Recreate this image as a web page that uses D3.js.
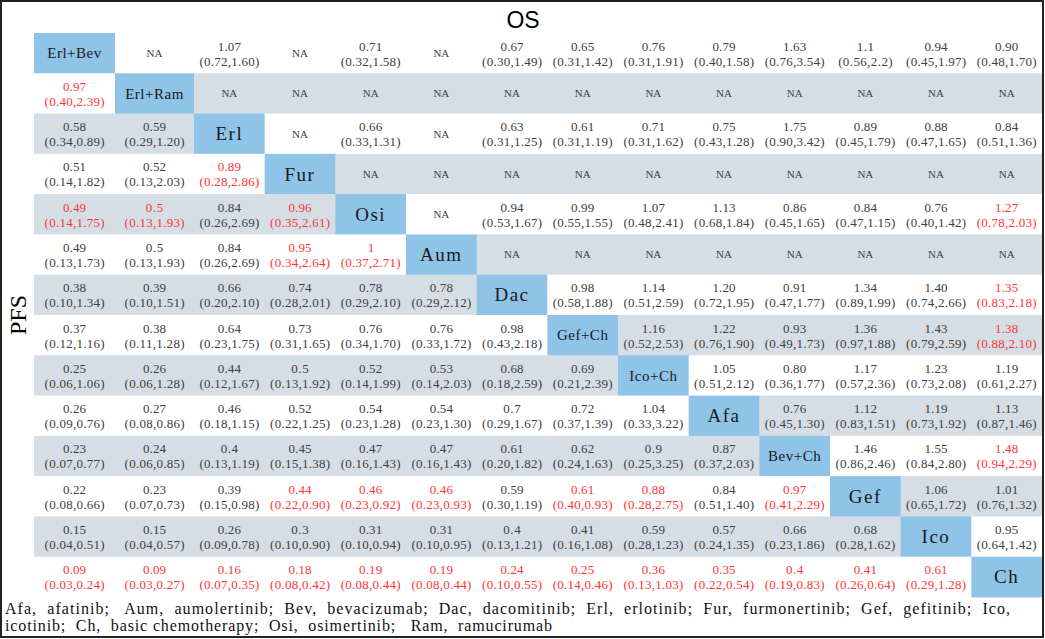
<!DOCTYPE html>
<html>
<head>
<meta charset="utf-8">
<script src="https://cdn.jsdelivr.net/npm/d3@7"></script>
<style>
  html, body { margin: 0; padding: 0; background: #fff; }
  svg { display: block; }
  text { white-space: pre; }
</style>
</head>
<body>
<div id="chart"></div>
<script>
// treatments on the diagonal (rows and columns share this order)
const treatments = ['Erl+Bev', 'Erl+Ram', 'Erl', 'Fur', 'Osi', 'Aum', 'Dac',
  'Gef+Ch', 'Ico+Ch', 'Afa', 'Bev+Ch', 'Gef', 'Ico', 'Ch'];

// one row per treatment: below the diagonal = PFS, above = OS, "" = diagonal
const rowErlBev = ['', 'NA', '1.07|(0.72,1.60)', 'NA', '0.71|(0.32,1.58)', 'NA', '0.67|(0.30,1.49)', '0.65|(0.31,1.42)', '0.76|(0.31,1.91)', '0.79|(0.40,1.58)', '1.63|(0.76,3.54)', '1.1|(0.56,2.2)', '0.94|(0.45,1.97)', '0.90|(0.48,1.70)'];
const rowErlRam = ['0.97|(0.40,2.39)', '', 'NA', 'NA', 'NA', 'NA', 'NA', 'NA', 'NA', 'NA', 'NA', 'NA', 'NA', 'NA'];
const rowErl = ['0.58|(0.34,0.89)', '0.59|(0.29,1.20)', '', 'NA', '0.66|(0.33,1.31)', 'NA', '0.63|(0.31,1.25)', '0.61|(0.31,1.19)', '0.71|(0.31,1.62)', '0.75|(0.43,1.28)', '1.75|(0.90,3.42)', '0.89|(0.45,1.79)', '0.88|(0.47,1.65)', '0.84|(0.51,1.36)'];
const rowFur = ['0.51|(0.14,1.82)', '0.52|(0.13,2.03)', '0.89|(0.28,2.86)', '', 'NA', 'NA', 'NA', 'NA', 'NA', 'NA', 'NA', 'NA', 'NA', 'NA'];
const rowOsi = ['0.49|(0.14,1.75)', '0.5|(0.13,1.93)', '0.84|(0.26,2.69)', '0.96|(0.35,2.61)', '', 'NA', '0.94|(0.53,1.67)', '0.99|(0.55,1.55)', '1.07|(0.48,2.41)', '1.13|(0.68,1.84)', '0.86|(0.45,1.65)', '0.84|(0.47,1.15)', '0.76|(0.40,1.42)', '1.27|(0.78,2.03)'];
const rowAum = ['0.49|(0.13,1.73)', '0.5|(0.13,1.93)', '0.84|(0.26,2.69)', '0.95|(0.34,2.64)', '1|(0.37,2.71)', '', 'NA', 'NA', 'NA', 'NA', 'NA', 'NA', 'NA', 'NA'];
const rowDac = ['0.38|(0.10,1.34)', '0.39|(0.10,1.51)', '0.66|(0.20,2.10)', '0.74|(0.28,2.01)', '0.78|(0.29,2.10)', '0.78|(0.29,2.12)', '', '0.98|(0.58,1.88)', '1.14|(0.51,2.59)', '1.20|(0.72,1.95)', '0.91|(0.47,1.77)', '1.34|(0.89,1.99)', '1.40|(0.74,2.66)', '1.35|(0.83,2.18)'];
const rowGefCh = ['0.37|(0.12,1.16)', '0.38|(0.11,1.28)', '0.64|(0.23,1.75)', '0.73|(0.31,1.65)', '0.76|(0.34,1.70)', '0.76|(0.33,1.72)', '0.98|(0.43,2.18)', '', '1.16|(0.52,2.53)', '1.22|(0.76,1.90)', '0.93|(0.49,1.73)', '1.36|(0.97,1.88)', '1.43|(0.79,2.59)', '1.38|(0.88,2.10)'];
const rowIcoCh = ['0.25|(0.06,1.06)', '0.26|(0.06,1.28)', '0.44|(0.12,1.67)', '0.5|(0.13,1.92)', '0.52|(0.14,1.99)', '0.53|(0.14,2.03)', '0.68|(0.18,2.59)', '0.69|(0.21,2.39)', '', '1.05|(0.51,2.12)', '0.80|(0.36,1.77)', '1.17|(0.57,2.36)', '1.23|(0.73,2.08)', '1.19|(0.61,2.27)'];
const rowAfa = ['0.26|(0.09,0.76)', '0.27|(0.08,0.86)', '0.46|(0.18,1.15)', '0.52|(0.22,1.25)', '0.54|(0.23,1.28)', '0.54|(0.23,1.30)', '0.7|(0.29,1.67)', '0.72|(0.37,1.39)', '1.04|(0.33,3.22)', '', '0.76|(0.45,1.30)', '1.12|(0.83,1.51)', '1.19|(0.73,1.92)', '1.13|(0.87,1.46)'];
const rowBevCh = ['0.23|(0.07,0.77)', '0.24|(0.06,0.85)', '0.4|(0.13,1.19)', '0.45|(0.15,1.38)', '0.47|(0.16,1.43)', '0.47|(0.16,1.43)', '0.61|(0.20,1.82)', '0.62|(0.24,1.63)', '0.9|(0.25,3.25)', '0.87|(0.37,2.03)', '', '1.46|(0.86,2.46)', '1.55|(0.84,2.80)', '1.48|(0.94,2.29)'];
const rowGef = ['0.22|(0.08,0.66)', '0.23|(0.07,0.73)', '0.39|(0.15,0.98)', '0.44|(0.22,0.90)', '0.46|(0.23,0.92)', '0.46|(0.23,0.93)', '0.59|(0.30,1.19)', '0.61|(0.40,0.93)', '0.88|(0.28,2.75)', '0.84|(0.51,1.40)', '0.97|(0.41,2.29)', '', '1.06|(0.65,1.72)', '1.01|(0.76,1.32)'];
const rowIco = ['0.15|(0.04,0.51)', '0.15|(0.04,0.57)', '0.26|(0.09,0.78)', '0.3|(0.10,0.90)', '0.31|(0.10,0.94)', '0.31|(0.10,0.95)', '0.4|(0.13,1.21)', '0.41|(0.16,1.08)', '0.59|(0.28,1.23)', '0.57|(0.24,1.35)', '0.66|(0.23,1.86)', '0.68|(0.28,1.62)', '', '0.95|(0.64,1.42)'];
const rowCh = ['0.09|(0.03,0.24)', '0.09|(0.03,0.27)', '0.16|(0.07,0.35)', '0.18|(0.08,0.42)', '0.19|(0.08,0.44)', '0.19|(0.08,0.44)', '0.24|(0.10,0.55)', '0.25|(0.14,0.46)', '0.36|(0.13,1.03)', '0.35|(0.22,0.54)', '0.4|(0.19,0.83)', '0.41|(0.26,0.64)', '0.61|(0.29,1.28)', ''];

const tableRows = [rowErlBev, rowErlRam, rowErl, rowFur, rowOsi, rowAum, rowDac,
  rowGefCh, rowIcoCh, rowAfa, rowBevCh, rowGef, rowIco, rowCh];

// [row, col] of cells printed in red
const redCells = [[1, 0], [3, 2], [4, 0], [4, 1], [4, 3], [4, 13], [5, 3], [5, 4],
  [6, 13], [7, 13], [10, 13], [11, 3], [11, 4], [11, 5], [11, 7], [11, 8], [11, 10],
  [13, 0], [13, 1], [13, 2], [13, 3], [13, 4], [13, 5], [13, 6], [13, 7], [13, 8],
  [13, 9], [13, 10], [13, 11], [13, 12]];

const footnote = [
  'Afa,  afatinib;   Aum,  aumolertinib;  Bev,  bevacizumab;  Dac,  dacomitinib;  Erl,  erlotinib;  Fur,  furmonertinib;  Gef,  gefitinib;  Ico,',
  'icotinib;  Ch,  basic chemotherapy;  Osi,  osimertinib;   Ram,  ramucirumab'
];

const width = 1045;
const height = 639;
const tableLeft = 34, tableRight = 1042, tableTop = 33, tableBottom = 597;

const svg = d3.select('#chart').append('svg')
  .attr('width', width)
  .attr('height', height)
  .attr('viewBox', `0 0 ${width} ${height}`);

// first two columns are a bit wider than the rest
const colWidths = treatments.map((d, i) => i === 0 ? 81 : i === 1 ? 79 : (tableRight - tableLeft - 160) / 12);
const colEdges = [tableLeft, ...d3.cumsum(colWidths).map(v => tableLeft + v)];

const xScale = d3.scaleOrdinal().domain(treatments).range(colEdges.slice(0, -1));
const wScale = d3.scaleOrdinal().domain(treatments).range(colWidths);
const yScale = d3.scaleBand().domain(treatments).range([tableTop, tableBottom]);

const redSet = new Set(redCells.map(d => d[0] + '-' + d[1]));

const cells = [];
tableRows.forEach((row, i) => {
  row.forEach((txt, j) => {
    cells.push({ i, j, row: treatments[i], col: treatments[j], txt });
  });
});

function cellFill(d) {
  if (d.i === d.j) return '#8fc3e7';
  if (d.j < d.i) return d.i % 2 === 0 ? '#d5dde5' : '#ffffff';
  return d.i % 2 === 1 ? '#d5dde5' : '#ffffff';
}

const g = svg.append('g').attr('class', 'cells');

const cell = g.selectAll('g.cell')
  .data(cells)
  .join('g')
  .attr('class', 'cell')
  .attr('transform', d => `translate(${xScale(d.col)},${yScale(d.row)})`);

cell.append('rect')
  .attr('width', d => wScale(d.col) + 0.5)
  .attr('height', yScale.bandwidth() + 0.5)
  .attr('fill', cellFill);

const textColor = d => redSet.has(d.i + '-' + d.j) ? '#ff3535' : '#404040';

// diagonal labels
cell.filter(d => d.i === d.j)
  .append('text')
  .attr('x', d => wScale(d.col) / 2)
  .attr('y', yScale.bandwidth() / 2)
  .attr('dy', '0.35em')
  .attr('text-anchor', 'middle')
  .attr('font-family', '"Liberation Serif", serif')
  .attr('font-size', d => d.row.includes('+') ? 15 : 19)
  .attr('letter-spacing', d => d.row.includes('+') ? 0.5 : 1.5)
  .attr('fill', '#1a1a1a')
  .text(d => d.row);

// NA cells
cell.filter(d => d.txt === 'NA')
  .append('text')
  .attr('x', d => wScale(d.col) / 2)
  .attr('y', yScale.bandwidth() / 2)
  .attr('dy', '0.35em')
  .attr('text-anchor', 'middle')
  .attr('font-family', '"Liberation Serif", serif')
  .attr('font-size', 11)
  .attr('fill', '#404040')
  .text('NA');

// estimate + interval cells
const valued = cell.filter(d => d.i !== d.j && d.txt !== 'NA');

valued.append('text')
  .attr('x', d => wScale(d.col) / 2 - d.txt.split('|')[0].length * 2.9)
  .attr('y', 13)
  .attr('dy', '0.35em')
  .attr('font-family', '"Liberation Serif", serif')
  .attr('font-size', 13)
  .attr('textLength', d => d.txt.split('|')[0].length * 5.8)
  .attr('lengthAdjust', 'spacing')
  .attr('fill', textColor)
  .text(d => d.txt.split('|')[0]);

valued.append('text')
  .attr('x', d => wScale(d.col) / 2 - d.txt.split('|')[1].length * 2.72)
  .attr('y', 28)
  .attr('dy', '0.35em')
  .attr('font-family', '"Liberation Serif", serif')
  .attr('font-size', 13)
  .attr('textLength', d => d.txt.split('|')[1].length * 5.45)
  .attr('lengthAdjust', 'spacing')
  .attr('fill', textColor)
  .text(d => d.txt.split('|')[1]);

// titles
svg.append('text')
  .attr('x', 523)
  .attr('y', 20)
  .attr('dy', '0.35em')
  .attr('text-anchor', 'middle')
  .attr('font-family', '"Liberation Sans Narrow", "Liberation Sans", sans-serif')
  .attr('font-size', 23)
  .attr('fill', '#000')
  .text('OS');

svg.append('text')
  .attr('transform', `translate(18, ${(tableTop + tableBottom) / 2}) rotate(-90)`)
  .attr('dy', '0.35em')
  .attr('text-anchor', 'middle')
  .attr('font-family', '"Liberation Serif", serif')
  .attr('font-size', 24)
  .attr('fill', '#000')
  .text('PFS');

// footnote with abbreviations
svg.selectAll('text.note')
  .data(footnote)
  .join('text')
  .attr('class', 'note')
  .attr('x', 5)
  .attr('y', (d, i) => 614 + i * 17)
  .attr('font-family', '"Liberation Serif", serif')
  .attr('font-size', 16)
  .attr('fill', '#111')
  .attr('textLength', (d, i) => i === 0 ? 1005 : 547)
  .attr('lengthAdjust', 'spacing')
  .text(d => d);

// frame around the whole figure
svg.append('rect')
  .attr('x', 1)
  .attr('y', 1)
  .attr('width', width - 3)
  .attr('height', height - 3)
  .attr('fill', 'none')
  .attr('stroke', '#222')
  .attr('stroke-width', 2);
</script>
</body>
</html>
